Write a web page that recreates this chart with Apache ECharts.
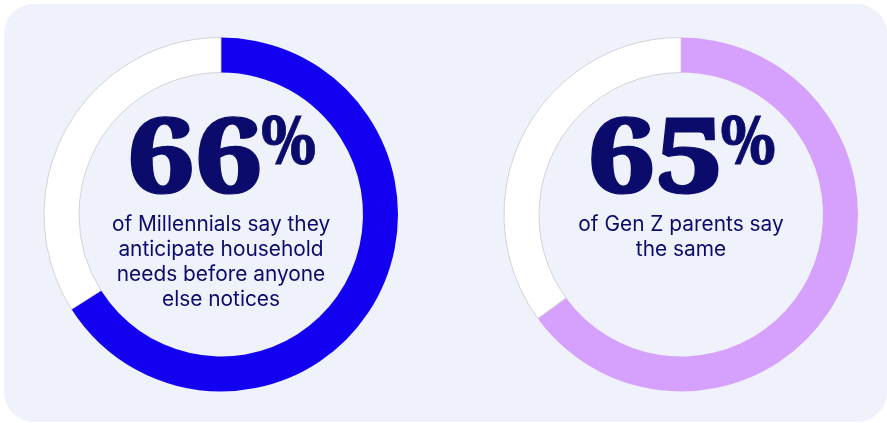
<!DOCTYPE html>
<html>
<head>
<meta charset="utf-8">
<script src="https://cdn.jsdelivr.net/npm/echarts@6/dist/echarts.min.js"></script>
<style>
  html, body { margin: 0; padding: 0; background: #ffffff; }
  #chart { width: 887px; height: 423px; }
</style>
</head>
<body>
<div id="chart"></div>
<script>
// Survey shares, one donut per group
const groups = ['Millennials', 'Gen Z parents'];
const shares = [66, 65];
const captions = [
  'of Millennials say they\nanticipate household\nneeds before anyone\nelse notices',
  'of Gen Z parents say\nthe same'
];
const ringColors = ['#1400f0', '#d5a1fc'];

// Layout and styling
const NAVY = '#0b0b6c';
const PANEL = '#eff2fa';
const centers = [[221, 214.5], [681, 214.5]];
const R_IN = 142, R_OUT = 177;
const SERIF = '"Noto Serif", "Liberation Serif", serif';
const SANS = '"Inter", "Open Sans", sans-serif';
const NUM_TOP = 115, NUM_H = 78, NUM_W = 130;   // big figure ink box
const PCT_H = 50, PCT_W = 54, PCT_GAP = 1.5;    // superscript percent sign
const CAP_W = 217, CAP_BASE = 230.5, CAP_LH = 25; // caption block
const NUM_STROKE = 1.2, PCT_STROKE = 0.8;

// Ink metrics measured on a scratch canvas, using the same middle baseline zrender draws with
const ctx = document.createElement('canvas').getContext('2d');
function ink(text, font) {
  ctx.font = font;
  ctx.textBaseline = 'middle';
  ctx.textAlign = 'left';
  const m = ctx.measureText(text);
  return {
    asc: m.actualBoundingBoxAscent, desc: m.actualBoundingBoxDescent,
    left: m.actualBoundingBoxLeft, right: m.actualBoundingBoxRight,
    w: m.actualBoundingBoxLeft + m.actualBoundingBoxRight,
    h: m.actualBoundingBoxAscent + m.actualBoundingBoxDescent
  };
}
const numFont = s => '900 ' + s + 'px ' + SERIF;
const capFont = s => s + 'px ' + SANS;

// Size the figures so their ink matches the target boxes
const numSize = 100 * (NUM_H - NUM_STROKE) / ink('6', numFont(100)).h;
const numScale = (NUM_W - NUM_STROKE) / ink(String(shares[0]), numFont(numSize)).w;
const pctSize = 100 * (PCT_H - PCT_STROKE) / ink('%', numFont(100)).h;
const pctInk = ink('%', numFont(pctSize));
const pctScale = (PCT_W - PCT_STROKE) / pctInk.w;

const longestCap = captions[0].split('\n').reduce((a, b) => (b.length > a.length ? b : a));
const capSize = 20 * CAP_W / ink(longestCap, capFont(20)).w;
const capBaseOffset = ink('M', capFont(capSize)).desc; // middle line to baseline

const chart = echarts.init(document.getElementById('chart'), null, { renderer: 'canvas' });

const series = shares.map((v, i) => ({
  type: 'pie',
  name: groups[i],
  center: centers[i],
  radius: [R_IN, R_OUT],
  startAngle: 90,
  clockwise: true,
  silent: true,
  label: { show: false },
  labelLine: { show: false },
  emphasis: { disabled: true },
  data: [
    { name: groups[i], value: v, itemStyle: { color: ringColors[i] } },
    { name: 'other', value: 100 - v,
      itemStyle: { color: '#ffffff', borderColor: '#c9c9d0', borderWidth: 0.8 } }
  ]
}));

const graphics = [{
  type: 'rect', z: -10, silent: true,
  shape: { x: 4, y: 4, width: 883, height: 418, r: 30 },
  style: { fill: PANEL }
}];

shares.forEach((v, i) => {
  const [cx] = centers[i];
  const numText = String(v);
  const nInk = ink(numText, numFont(numSize));
  const nw = nInk.w * numScale + NUM_STROKE;
  const pw = pctInk.w * pctScale + PCT_STROKE;
  const inkLeft = cx - (nw + PCT_GAP + pw) / 2 + 1.5;
  const pctLeft = inkLeft + nw + PCT_GAP;

  graphics.push({
    type: 'text', z: 100, silent: true,
    x: inkLeft + NUM_STROKE / 2 + nInk.left * numScale,
    y: NUM_TOP + NUM_STROKE / 2 + nInk.asc,
    scaleX: numScale,
    style: {
      text: numText, x: 0, y: 0, align: 'left', verticalAlign: 'middle',
      font: numFont(numSize), fill: NAVY, stroke: NAVY, lineWidth: NUM_STROKE
    }
  });
  graphics.push({
    type: 'text', z: 100, silent: true,
    x: pctLeft + PCT_STROKE / 2 + pctInk.left * pctScale,
    y: NUM_TOP + PCT_STROKE / 2 + pctInk.asc,
    scaleX: pctScale,
    style: {
      text: '%', x: 0, y: 0, align: 'left', verticalAlign: 'middle',
      font: numFont(pctSize), fill: NAVY, stroke: NAVY, lineWidth: PCT_STROKE
    }
  });
  graphics.push({
    type: 'text', z: 100, silent: true,
    x: cx, y: CAP_BASE - capBaseOffset - CAP_LH / 2,
    style: {
      text: captions[i], x: 0, y: 0, align: 'center', verticalAlign: 'top',
      font: capFont(capSize), lineHeight: CAP_LH, fill: NAVY
    }
  });
});

chart.setOption({
  backgroundColor: '#ffffff',
  animation: false,
  series: series,
  graphic: graphics
});
</script>
</body>
</html>
